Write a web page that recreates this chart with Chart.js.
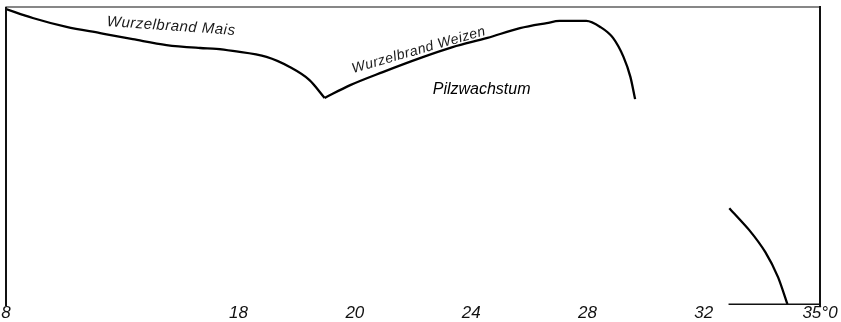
<!DOCTYPE html>
<html lang="de">
<head>
    <meta charset="UTF-8">
    <title>Wurzelbrand und Pilzwachstum</title>
    <script src="https://cdn.jsdelivr.net/npm/chart.js"></script>
    <style>
        html, body { margin: 0; padding: 0; background: #fff; }
        #wrap { width: 841px; height: 322px; }
    </style>
</head>
<body>
    <div id="wrap"><canvas id="myChart"></canvas></div>

    <script>
        // x-Achse: Positionen 0..7, Beschriftung (Temperatur)
        const tickLabels = ['8', '', '18', '20', '24', '28', '32', '35°0'];

        // Wurzelbrand Mais (abfallend bis zum Knick)
        const maisX = [0, 0.23, 0.52, 0.81, 1.09, 1.38, 1.67, 1.81, 1.95, 2.24, 2.44, 2.61, 2.74];
        const maisY = [99.3, 96.3, 93.3, 91.2, 89.2, 87.2, 86.2, 85.9, 85.2, 83.2, 79.8, 75.4, 69.4];

        // Wurzelbrand Weizen (vom Knick bis zum Abfall)
        const weizenX = [2.74, 2.96, 3.24, 3.56, 3.84, 4.14, 4.42, 4.65, 4.76, 4.99, 5.11, 5.22, 5.31, 5.37, 5.41];
        const weizenY = [69.4, 73.7, 78.1, 82.8, 86.5, 89.6, 92.9, 94.6, 95.3, 95.3, 93.3, 89.6, 83.2, 76.4, 69.0];

        // unteres Kurvenstück rechts
        const tailX = [6.22, 6.39, 6.53, 6.64, 6.72];
        const tailY = [32.3, 25.0, 17.5, 9.0, 0];

        function toPoints(xs, ys) {
            return xs.map((x, i) => ({ x: x, y: ys[i] }));
        }

        const framePlugin = {
            id: 'frame',
            afterDatasetsDraw(chart) {
                const ctx = chart.ctx;
                const a = chart.chartArea;
                const xs = chart.scales.x;
                const ys = chart.scales.y;
                ctx.save();
                ctx.strokeStyle = '#111';
                ctx.lineCap = 'square';
                // oben
                ctx.lineWidth = 1.2;
                ctx.beginPath();
                ctx.moveTo(a.left, a.top);
                ctx.lineTo(a.right, a.top);
                ctx.stroke();
                // links, rechts
                ctx.lineWidth = 2;
                ctx.beginPath();
                ctx.moveTo(a.left, a.top + 1);
                ctx.lineTo(a.left, a.bottom + 1);
                ctx.moveTo(a.right, a.top);
                ctx.lineTo(a.right, a.bottom + 1);
                ctx.stroke();
                // Stück der Grundlinie rechts
                ctx.lineWidth = 1.5;
                ctx.beginPath();
                ctx.moveTo(xs.getPixelForValue(6.22), a.bottom);
                ctx.lineTo(a.right, a.bottom);
                ctx.stroke();

                // Beschriftungen
                ctx.fillStyle = '#1a1a1a';
                ctx.textAlign = 'center';
                ctx.textBaseline = 'middle';

                ctx.save();
                ctx.translate(xs.getPixelForValue(1.42), ys.getPixelForValue(93.5));
                ctx.rotate(4 * Math.PI / 180);
                ctx.font = 'italic 15px "Liberation Sans"';
                ctx.letterSpacing = '0.5px';
                ctx.fillText('Wurzelbrand Mais', 0, 0);
                ctx.restore();

                ctx.save();
                ctx.translate(xs.getPixelForValue(3.55), ys.getPixelForValue(85.5));
                ctx.rotate(-16 * Math.PI / 180);
                ctx.font = 'italic 14px "Liberation Sans"';
                ctx.letterSpacing = '0.5px';
                ctx.fillText('Wurzelbrand Weizen', 0, 0);
                ctx.restore();

                ctx.font = 'italic 16px "Liberation Sans"';
                ctx.fillStyle = '#000';
                ctx.fillText('Pilzwachstum', xs.getPixelForValue(4.09), ys.getPixelForValue(72.1));
                ctx.restore();
            }
        };

        const lineStyle = {
            borderColor: '#000',
            borderWidth: 2.3,
            pointRadius: 0,
            fill: false,
            cubicInterpolationMode: 'monotone'
        };

        const ctx = document.getElementById('myChart').getContext('2d');
        new Chart(ctx, {
            type: 'line',
            data: {
                datasets: [
                    Object.assign({ label: 'Wurzelbrand Mais', data: toPoints(maisX, maisY) }, lineStyle),
                    Object.assign({ label: 'Wurzelbrand Weizen', data: toPoints(weizenX, weizenY) }, lineStyle),
                    Object.assign({ label: 'Pilzwachstum', data: toPoints(tailX, tailY) }, lineStyle,
                        { cubicInterpolationMode: 'default', tension: 0.2 })
                ]
            },
            options: {
                responsive: true,
                maintainAspectRatio: false,
                animation: false,
                layout: { padding: { left: 6, right: 21, top: 7, bottom: 0 } },
                plugins: {
                    legend: { display: false },
                    tooltip: { enabled: false }
                },
                scales: {
                    x: {
                        type: 'linear',
                        min: 0,
                        max: 7,
                        grid: { display: false, drawTicks: false },
                        border: { display: false },
                        ticks: {
                            stepSize: 1,
                            autoSkip: false,
                            maxRotation: 0,
                            padding: 0,
                            color: '#111',
                            font: { family: '"Liberation Sans Narrow", "Liberation Sans"', style: 'italic', size: 17, lineHeight: 1.05 },
                            callback: (v) => tickLabels[v]
                        }
                    },
                    y: {
                        display: false,
                        min: 0,
                        max: 100
                    }
                }
            },
            plugins: [framePlugin]
        });
    </script>
</body>
</html>
